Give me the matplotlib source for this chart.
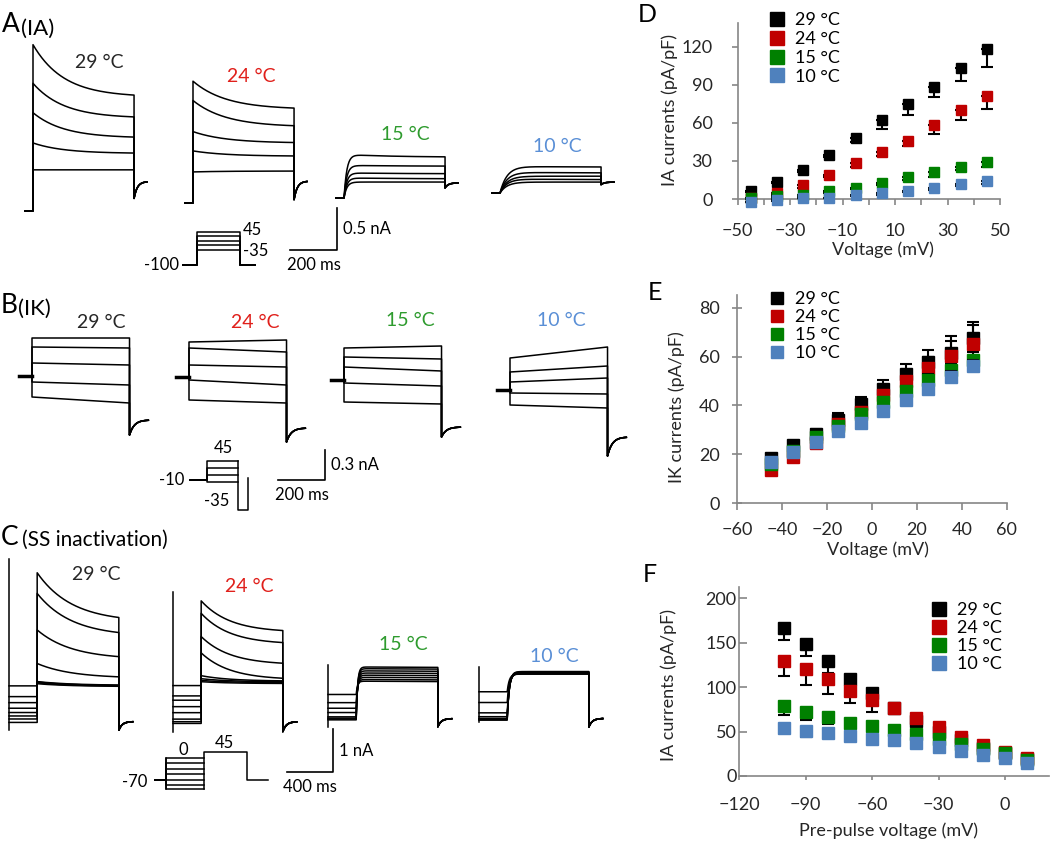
import numpy as np
import matplotlib.pyplot as plt
from matplotlib.lines import Line2D

plt.rcParams['font.family'] = ['Lato', 'DejaVu Sans']

W, H = 1050, 842

temps = ['29 °C', '24 °C', '15 °C', '10 °C']
mark_cols = ['#000000', '#C00000', '#008000', '#4F81BD']
text_cols = ['#262626', '#E0201B', '#2E9B2E', '#5A8FD6']

# ---- D: IA current density vs voltage (lower SEM) ----
d_volt = [-45, -35, -25, -15, -5, 5, 15, 25, 35, 45]
d_mean = [[6.5, 13.5, 23, 35, 48, 62, 75, 88, 103, 118],
          [1, 4.5, 11, 19, 28, 37, 46, 58, 70, 81],
          [0.5, 2, 3, 6, 9, 13, 17, 21.5, 25.5, 29.5],
          [-2, -1, 1, 1, 3, 4.5, 6.5, 8.5, 11.5, 14]]
d_err = [[1, 1, 2, 2, 3, 7, 9, 8, 10, 14],
         [1, 1, 2, 2, 3, 3, 4, 7, 8, 10],
         [0.5, 1, 1, 1, 1.5, 2, 2, 4, 3, 4],
         [0.5, 0.5, 0.5, 0.5, 1, 1, 1, 1.5, 1.5, 2]]

# ---- E: IK current density vs voltage (upper SEM) ----
e_volt = [-45, -35, -25, -15, -5, 5, 15, 25, 35, 45]
e_mean = [[18.4, 23.6, 28.2, 33.9, 40.4, 46.8, 52.7, 57.8, 61.5, 67.6],
          [13.5, 18.9, 24.5, 32.6, 37.4, 44.3, 50.1, 55.5, 60.4, 65.2],
          [16, 21.3, 26.9, 31.4, 36.5, 41.3, 45.9, 50.3, 54.6, 58.8],
          [16.7, 21.0, 24.9, 29.4, 33.0, 37.8, 42.3, 46.7, 51.6, 56.1]]
e_err = [[1.6, 2, 2.1, 3, 3.2, 3.5, 4.1, 4.9, 6.9, 6.7],
         [1, 1.5, 2, 2, 2.5, 3, 4, 4.5, 6, 8],
         [1, 1, 1.5, 1.5, 2, 2, 2, 2.5, 2.5, 3],
         [1, 1, 1, 1.5, 1.5, 2, 2, 2, 2.5, 2.5]]

# ---- F: IA vs pre-pulse voltage (lower SEM) ----
f_volt = [-100, -90, -80, -70, -60, -50, -40, -30, -20, -10, 0, 10]
f_mean = [[167, 148, 129, 109, 93, 77, 62, 50, 40, 32, 26, 19],
          [129, 120, 109, 96, 86, 77, 65, 55.5, 44, 35, 27, 20],
          [79, 72, 66, 60, 56, 52, 47, 42, 36, 30, 25.5, 18],
          [54, 51, 48, 45, 42, 40, 37, 33, 28.5, 24, 20, 15]]
f_err = [[14, 13, 13, 17, 6, 6, 5, 4, 3, 3, 2, 2],
         [17, 18, 17, 14, 14, 5, 4, 3, 3, 2, 2, 1],
         [10, 9, 8, 6, 5, 4, 4, 3, 3, 2, 2, 2],
         [6, 7, 4, 4, 4, 3, 3, 3, 2, 2, 2, 2]]

# ---- A: IA traces (nA), 5 sweeps per temperature ----
a_peak = [[1.98, 1.52, 1.17, 0.81, 0.49], [1.45, 1.22, 0.85, 0.62, 0.37],
          [0.52, 0.39, 0.30, 0.24, 0.19], [0.32, 0.25, 0.20, 0.17, 0.13]]
a_end = [[1.38, 1.12, 0.88, 0.69, 0.49], [1.13, 0.92, 0.72, 0.56, 0.38],
         [0.49, 0.38, 0.29, 0.23, 0.19], [0.31, 0.24, 0.20, 0.16, 0.13]]
a_tail = [[0.15, 0.35], [0.04, 0.26], [0.12, 0.18], [0.10, 0.13]]
a_tau_dec = [130, 140, 200, 200]
a_tau_rise = [0, 0, 12, 30]

# ---- B: IK traces (nA) ----
b_start = [[0.38, 0.29, 0.13, -0.06, -0.21], [0.35, 0.29, 0.12, -0.03, -0.23],
           [0.32, 0.23, 0.13, -0.03, -0.22], [0.32, 0.18, 0.08, -0.03, -0.15]]
b_end = [[0.38, 0.28, 0.11, -0.09, -0.27], [0.37, 0.25, 0.10, -0.08, -0.26],
         [0.34, 0.21, 0.09, -0.06, -0.24], [0.43, 0.24, 0.12, -0.04, -0.18]]
b_tail = [[-0.59, -0.44], [-0.65, -0.51], [-0.57, -0.47], [-0.66, -0.47]]

# ---- C: steady-state inactivation traces (nA), 8 sweeps ----
c_pre = [[0.06, 0.14, 0.21, 0.29, 0.39, 0.52, 0.66, 0.91],
         [0.06, 0.10, 0.16, 0.31, 0.45, 0.60, 0.70, 0.94],
         [0.05, 0.07, 0.09, 0.12, 0.22, 0.32, 0.45, 0.64],
         [0.02, 0.035, 0.05, 0.06, 0.10, 0.19, 0.43, 0.68]]
c_peak = [[3.54, 3.06, 2.21, 1.43, 1.01, 1.00, 0.98, 0.96],
          [2.91, 2.62, 2.08, 1.70, 1.17, 1.10, 1.06, 1.03],
          [1.28, 1.24, 1.19, 1.14, 1.09, 1.04, 0.99, 0.95],
          [1.15, 1.14, 1.13, 1.12, 1.11, 1.10, 1.10, 1.09]]
c_end = [[2.50, 2.15, 1.59, 1.12, 0.93, 0.92, 0.91, 0.90],
         [2.22, 1.94, 1.46, 1.11, 1.05, 1.03, 1.01, 0.99],
         [1.27, 1.23, 1.18, 1.13, 1.08, 1.03, 0.98, 0.94],
         [1.15, 1.14, 1.13, 1.12, 1.11, 1.10, 1.10, 1.09]]
c_spike = [[-0.12, 3.86], [-0.14, 3.12], [-0.12, 1.33], [-0.02, 1.25]]
c_tail = [[-0.12, 0.08], [-0.13, 0.10], [-0.11, 0.08], [-0.14, 0.06]]
c_tau_dec = [300, 250, 0, 0]
c_tau_rise = [0, 0, 12, 18]

# protocol step levels (mV)
a_steps = [-35, -15, 5, 25, 45]
b_steps = [-15, 5, 25, 45]
c_steps = [0, -15, -35, -50, -70, -85, -100]


def decay(t, dur, peak, end, tau_dec, tau_rise):
    if tau_dec:
        k = (np.exp(-t / tau_dec) - np.exp(-dur / tau_dec)) / (1 - np.exp(-dur / tau_dec))
    else:
        k = 1 - t / dur
    i = end + (peak - end) * k
    if tau_rise:
        i = i * (1 - np.exp(-t / tau_rise))
    return i


def tail_curve(t, v0, v1):
    return v1 + (v0 - v1) * np.exp(-t / (t[-1] / 4))


fig = plt.figure(figsize=(W / 100, H / 100), dpi=100)
ax0 = fig.add_axes([0, 0, 1, 1])
ax0.set_xlim(0, W)
ax0.set_ylim(H, 0)
ax0.axis('off')
lw = 1.1

# ---------- row A ----------
sx, sy = 0.235, 84.0
a_x0 = [33, 193, 344, 500]
a_y0 = [211, 203, 198, 193]
dur, t_pre, t_tail = 430, 34, 55
for k in range(4):
    for p, e in zip(a_peak[k], a_end[k]):
        t = np.linspace(0, dur, 300)
        i = decay(t, dur, p, e, a_tau_dec[k], a_tau_rise[k])
        tt = np.linspace(0, t_tail, 60)
        ti = tail_curve(tt, a_tail[k][0], a_tail[k][1])
        T = np.concatenate([[-t_pre, 0], t, [dur], dur + tt])
        I = np.concatenate([[0, 0], i, [a_tail[k][0]], ti])
        ax0.plot(a_x0[k] + T * sx, a_y0[k] - I * sy, color='k', lw=lw)

# ---------- row B ----------
sx, sy = 0.235, 100.0
b_x0 = [32, 189, 344, 510]
b_y0 = [376, 377, 380, 390]
dur, t_pre, t_tail = 415, 55, 80
for k in range(4):
    for s, e in zip(b_start[k], b_end[k]):
        tt = np.linspace(0, t_tail, 60)
        ti = tail_curve(tt, b_tail[k][0], b_tail[k][1])
        T = np.concatenate([[-t_pre, 0, 0, dur, dur], dur + tt])
        I = np.concatenate([[0, 0, s, e, b_tail[k][0]], ti])
        ax0.plot(b_x0[k] + T * sx, b_y0[k] - I * sy, color='k', lw=lw)
    ax0.plot([b_x0[k] - t_pre * sx, b_x0[k]], [b_y0[k]] * 2, color='k', lw=2.5)

# ---------- row C ----------
sx, sy = 0.115, 43.0
c_x0 = [9, 173, 328, 479]
c_y0 = [725, 726, 722, 721]
t_pre, dur, t_tail = 245, 710, 120
for k in range(4):
    ax0.plot([c_x0[k]] * 2, [c_y0[k] - c_spike[k][0] * sy, c_y0[k] - c_spike[k][1] * sy],
             color='k', lw=lw)
    for pr, p, e in zip(c_pre[k], c_peak[k], c_end[k]):
        t = np.linspace(0, dur, 300)
        i = decay(t, dur, p, e, c_tau_dec[k], c_tau_rise[k])
        if c_tau_rise[k]:
            i = pr + (i - pr * (1 - np.exp(-t / c_tau_rise[k])))
        tt = np.linspace(0, t_tail, 60)
        ti = tail_curve(tt, c_tail[k][0], c_tail[k][1])
        T = np.concatenate([[0, t_pre], t_pre + t, [t_pre + dur], t_pre + dur + tt])
        I = np.concatenate([[pr, pr], i, [c_tail[k][0]], ti])
        ax0.plot(c_x0[k] + T * sx, c_y0[k] - I * sy, color='k', lw=lw)

# ---------- temperature labels ----------
lab_pos = [[(99, 63), (251, 77), (405, 135), (557, 147)],
           [(101, 322), (255, 322), (410, 320), (561, 320)],
           [(96, 574), (249, 587), (403, 644), (554, 656)]]
for row in lab_pos:
    for k, (x, y) in enumerate(row):
        ax0.text(x, y, temps[k], color=text_cols[k], fontsize=14, ha='center', va='center')


# ---------- scale bars ----------
def scalebar(xc, yc, tlen, ilen, sx, sy, tlab, ilab):
    ax0.plot([xc - tlen * sx, xc, xc], [yc, yc, yc - ilen * sy], color='k', lw=1.2)
    ax0.text(xc + 6, yc - ilen * sy / 2, ilab, fontsize=12, va='center', ha='left')
    ax0.text(xc - tlen * sx / 2, yc + 15, tlab, fontsize=12, va='center', ha='center')


scalebar(337, 250, 200, 0.5, 0.235, 84.0, '200 ms', '0.5 nA')
scalebar(325, 480, 200, 0.3, 0.235, 100.0, '200 ms', '0.3 nA')
scalebar(333, 772, 400, 1.0, 0.115, 43.0, '400 ms', '1 nA')

# ---------- voltage protocols ----------
pk = dict(color='k', lw=1.1)
# A: -100 holding, steps -35..45
x0, yh, sv = 183, 265, 0.23
for v in a_steps:
    y = yh - (v + 100) * sv
    ax0.plot([x0, x0 + 14, x0 + 14, x0 + 57, x0 + 57, x0 + 72], [yh, yh, y, y, yh, yh], **pk)
ax0.text(x0 - 4, yh, '-100', fontsize=12, ha='right', va='center')
ax0.text(x0 + 60, yh - 145 * sv - 2, '45', fontsize=12, ha='left', va='center')
ax0.text(x0 + 60, yh - 65 * sv + 1, '-35', fontsize=12, ha='left', va='center')
# B: -10 holding, steps to 45, then -35
x0, yh, sv = 190, 480, 0.345
for v in b_steps:
    y = yh - (v + 10) * sv
    ax0.plot([x0, x0 + 17, x0 + 17, x0 + 48], [yh, yh, y, y], **pk)
ax0.plot([x0 + 48, x0 + 48, x0 + 58, x0 + 58], [yh - 55 * sv, yh + 30, yh + 30, yh - 2], **pk)
ax0.text(x0 - 6, yh, '-10', fontsize=12, ha='right', va='center')
ax0.text(x0 + 33, yh - 55 * sv - 13, '45', fontsize=12, ha='center', va='center')
ax0.text(x0 + 27, yh + 21, '-35', fontsize=12, ha='center', va='center')
# C: -70 holding, pre-pulses -100..0, test 45
x0, yh, sv = 155, 780, 0.31
for v in c_steps:
    y = yh - (v + 70) * sv
    ax0.plot([x0, x0 + 11, x0 + 11, x0 + 49], [yh, yh, y, y], **pk)
ax0.plot([x0 + 11, x0 + 11], [yh - 70 * sv, yh + 30 * sv], **pk)
ax0.plot([x0 + 49, x0 + 49, x0 + 92, x0 + 92, x0 + 113],
         [yh + 30 * sv, yh - 28, yh - 28, yh, yh], **pk)
ax0.text(x0 - 8, yh + 2, '-70', fontsize=12, ha='right', va='center')
ax0.text(x0 + 28, yh - 30, '0', fontsize=12, ha='center', va='center')
ax0.text(x0 + 69, yh - 37, '45', fontsize=12, ha='center', va='center')

# ---------- panel letters ----------
ax0.text(2, 32, 'A', fontsize=19, va='baseline')
ax0.text(21, 35, '(IA)', fontsize=16, va='baseline')
ax0.text(1, 313, 'B', fontsize=19, va='baseline')
ax0.text(18, 315, '(IK)', fontsize=16, va='baseline')
ax0.text(1, 545, 'C', fontsize=19, va='baseline')
ax0.text(22, 546, '(SS inactivation)', fontsize=15, va='baseline')
ax0.text(638, 22, 'D', fontsize=18, va='baseline')
ax0.text(648, 300, 'E', fontsize=18, va='baseline')
ax0.text(643, 582, 'F', fontsize=18, va='baseline')


# ---------- summary plots ----------
def px_axes(l, r, t, b):
    return fig.add_axes([l / W, (H - b) / H, (r - l) / W, (b - t) / H])


def style(ax):
    for s in ['top', 'right']:
        ax.spines[s].set_visible(False)
    for s in ['left', 'bottom']:
        ax.spines[s].set_color('#868686')
        ax.spines[s].set_linewidth(1.2)
    ax.tick_params(which='both', color='#868686', labelcolor='#262626', labelsize=13, width=1.2)
    ax.patch.set_alpha(0)


def series(ax, x, means, errs, ms, upper):
    for k in range(4):
        z = np.zeros(len(errs[k]))
        yerr = [z, errs[k]] if upper else [errs[k], z]
        ax.errorbar(x, means[k], yerr=yerr, fmt='none', ecolor='k', elinewidth=1.5,
                    capsize=4, capthick=1.5, zorder=3 + 2 * k, clip_on=False)
        ax.plot(x, means[k], 's', color=mark_cols[k], ms=ms, mec=mark_cols[k],
                zorder=4 + 2 * k, clip_on=False)


def legend(ax, bx, by, ms, sp):
    hs = [Line2D([], [], ls='none', marker='s', color=c, ms=ms) for c in mark_cols]
    ax.legend(hs, temps, loc='upper left', bbox_to_anchor=(bx, by), frameon=False,
              fontsize=13, handlelength=0.8, handletextpad=0.6, labelspacing=sp,
              borderpad=0, borderaxespad=0)


axD = px_axes(737.5, 1000, 23, 199)
style(axD)
series(axD, d_volt, d_mean, d_err, 7.5, False)
axD.set_xlim(-50, 50)
axD.set_ylim(0, 138.7)
axD.set_xticks([-50, -30, -10, 10, 30, 50])
axD.set_xticks([-40, -20, 0, 20, 40], minor=True)
axD.set_yticks([0, 30, 60, 90, 120])
axD.tick_params(axis='x', which='both', direction='out', length=4, pad=13)
axD.tick_params(axis='y', direction='out', length=4, pad=14)
axD.set_xlabel('Voltage (mV)', fontsize=13, color='#262626')
axD.set_ylabel('IA currents (pA/pF)', fontsize=13, color='#262626')
axD.xaxis.set_label_coords(0.554, -0.239)
axD.yaxis.set_label_coords(-0.227, 0.506)
legend(axD, 0.124, 1.06, 10, 0.15)

axE = px_axes(737.3, 1006.7, 295, 503)
style(axE)
series(axE, e_volt, e_mean, e_err, 8.5, True)
axE.set_xlim(-60, 60)
axE.set_ylim(0, 85.3)
axE.set_xticks(range(-60, 61, 20))
axE.set_yticks(range(0, 81, 20))
axE.tick_params(axis='x', direction='out', length=5, pad=9)
axE.tick_params(axis='y', direction='inout', length=7, pad=9)
axE.set_xlabel('Voltage (mV)', fontsize=13, color='#262626')
axE.set_ylabel('IK currents (pA/pF)', fontsize=13, color='#262626')
axE.xaxis.set_label_coords(0.522, -0.183)
axE.yaxis.set_label_coords(-0.194, 0.46)
legend(axE, 0.121, 1.02, 9, 0.12)

axF = px_axes(739.3, 1049.3, 586.7, 776)
style(axF)
series(axF, f_volt, f_mean, f_err, 8, False)
axF.set_xlim(-120, 20)
axF.set_ylim(0, 213)
axF.set_xticks([-120, -90, -60, -30, 0])
axF.set_yticks([0, 50, 100, 150, 200])
axF.tick_params(axis='x', direction='out', length=3, pad=12)
axF.tick_params(axis='y', direction='in', length=6, pad=2)
axF.set_xlabel('Pre-pulse voltage (mV)', fontsize=13, color='#262626')
axF.set_ylabel('IA currents (pA/pF)', fontsize=13, color='#262626')
axF.xaxis.set_label_coords(0.48, -0.243)
axF.yaxis.set_label_coords(-0.201, 0.48)
legend(axF, 0.622, 0.92, 9.5, 0.12)

fig.savefig('out.png', dpi=100)
